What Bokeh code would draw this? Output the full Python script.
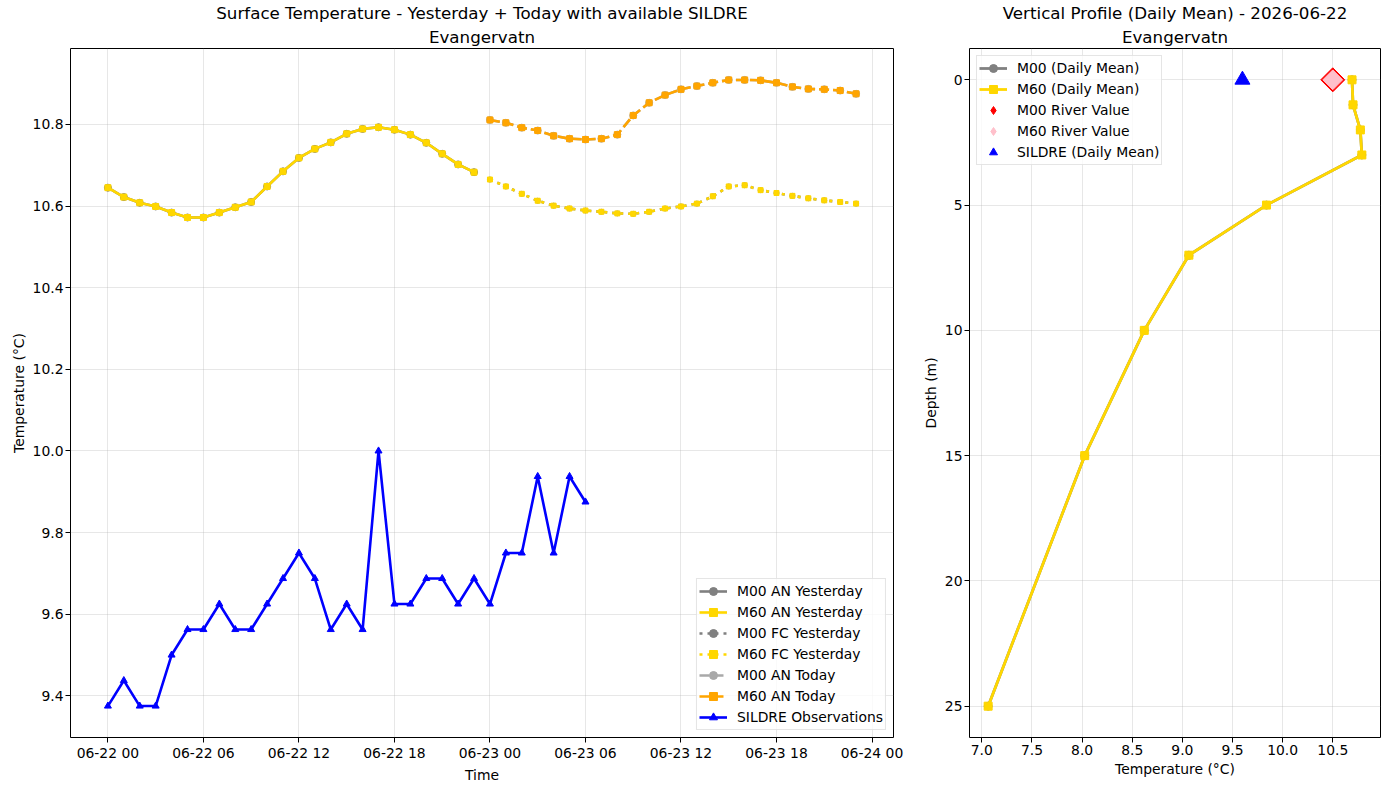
import pandas as pd
from bokeh.plotting import figure
from bokeh.models import (Range1d, FixedTicker, DatetimeTickFormatter, NumeralTickFormatter,
                          Legend, LegendItem, Title)
from bokeh.layouts import row
from bokeh.embed import file_html
from bokeh.resources import INLINE

FONT = "DejaVu Sans"

# ---------------- surface temperature series (hourly) ----------------
day0 = pd.Timestamp("2026-06-22 00:00")
hours_an_yest = list(range(0, 24))
hours_fc_yest = list(range(24, 48))
hours_an_today = list(range(24, 48))
hours_obs = list(range(0, 31))

m00_an_yest = [10.645, 10.622, 10.608, 10.599, 10.584, 10.572, 10.572, 10.584, 10.597, 10.610,
               10.648, 10.685, 10.718, 10.740, 10.756, 10.777, 10.789, 10.793, 10.787, 10.775,
               10.755, 10.728, 10.702, 10.683]
m60_an_yest = [10.645, 10.622, 10.608, 10.599, 10.584, 10.572, 10.572, 10.584, 10.597, 10.610,
               10.648, 10.685, 10.718, 10.740, 10.756, 10.777, 10.789, 10.793, 10.787, 10.775,
               10.755, 10.728, 10.702, 10.683]
m00_fc_yest = [10.665, 10.648, 10.630, 10.613, 10.601, 10.594, 10.589, 10.586, 10.582, 10.581,
               10.586, 10.594, 10.599, 10.606, 10.624, 10.648, 10.651, 10.639, 10.632, 10.625,
               10.619, 10.614, 10.610, 10.606]
m60_fc_yest = [10.665, 10.648, 10.630, 10.613, 10.601, 10.594, 10.589, 10.586, 10.582, 10.581,
               10.586, 10.594, 10.599, 10.606, 10.624, 10.648, 10.651, 10.639, 10.632, 10.625,
               10.619, 10.614, 10.610, 10.606]
m00_an_today = [10.811, 10.804, 10.792, 10.785, 10.772, 10.765, 10.763, 10.765, 10.775, 10.822,
                10.853, 10.872, 10.886, 10.894, 10.902, 10.909, 10.909, 10.908, 10.902, 10.892,
                10.887, 10.886, 10.883, 10.875]
m60_an_today = [10.811, 10.804, 10.792, 10.785, 10.772, 10.765, 10.763, 10.765, 10.775, 10.822,
                10.853, 10.872, 10.886, 10.894, 10.902, 10.909, 10.909, 10.908, 10.902, 10.892,
                10.887, 10.886, 10.883, 10.875]
sildre_obs = [9.375, 9.4375, 9.375, 9.375, 9.5, 9.5625, 9.5625, 9.625, 9.5625, 9.5625,
              9.625, 9.6875, 9.75, 9.6875, 9.5625, 9.625, 9.5625, 10.0, 9.625, 9.625,
              9.6875, 9.6875, 9.625, 9.6875, 9.625, 9.75, 9.75, 9.9375, 9.75, 9.9375, 9.875]

# ---------------- vertical profile (daily mean) ----------------
depths = [0, 1, 2, 3, 5, 7, 10, 15, 25]
m00_profile = [10.692, 10.702, 10.775, 10.790, 9.839, 9.065, 8.620, 8.026, 7.063]
m60_profile = [10.692, 10.702, 10.775, 10.790, 9.839, 9.065, 8.620, 8.026, 7.063]
m00_river = 10.5
m60_river = 10.5
sildre_daily_mean = sum(sildre_obs[:24]) / 24.0

time_ticks = [0, 6, 12, 18, 24, 30, 36, 42, 48]


def to_time(hours):
    return [day0 + pd.Timedelta(hours=h) for h in hours]


def to_ms(h):
    return (day0 + pd.Timedelta(hours=h)).timestamp() * 1000.0


def add_titles(p, main, sub):
    # the figure's own title is the outer (top) line; the location line sits below it
    p.title.text = main
    p.title.text_font = FONT
    p.title.text_font_size = "16.7px"
    p.title.text_font_style = "normal"
    p.title.align = "center"
    p.title.text_color = "black"
    p.title.standoff = 0
    inner = Title(text=sub, align="center", text_font=FONT, text_font_size="16.7px",
                  text_font_style="normal", text_color="black", standoff=4)
    p.add_layout(inner, "above")


def style_axes(p):
    p.outline_line_color = "black"
    p.outline_line_width = 1
    p.outline_line_alpha = 1
    for ax in (p.xaxis[0], p.yaxis[0]):
        ax.axis_line_color = None
        ax.major_tick_in = 0
        ax.major_tick_out = 5
        ax.minor_tick_line_color = None
        ax.major_label_text_font = FONT
        ax.major_label_text_font_size = "13.9px"
        ax.major_label_text_color = "black"
        ax.axis_label_text_font = FONT
        ax.axis_label_text_font_size = "13.9px"
        ax.axis_label_text_font_style = "normal"
        ax.axis_label_text_color = "black"
        ax.major_label_standoff = 2
        ax.axis_label_standoff = 3
    p.grid.grid_line_color = "#b0b0b0"
    p.grid.grid_line_alpha = 0.3
    p.grid.grid_line_width = 1


def style_legend(leg):
    leg.label_text_font = FONT
    leg.label_text_font_size = "13.9px"
    leg.label_text_color = "black"
    leg.border_line_color = "#cccccc"
    leg.border_line_width = 1
    leg.background_fill_alpha = 0.8
    leg.glyph_width = 28
    leg.glyph_height = 20
    leg.label_height = 20
    leg.spacing = 1
    leg.padding = 2
    leg.label_standoff = 10
    leg.margin = 7


def series(p, xs, ys, color, marker, dash, msize, label, lw=2.6):
    ln = p.line(xs, ys, line_color=color, line_width=lw, line_dash=dash)
    sc = p.scatter(xs, ys, marker=marker, size=msize, fill_color=color, line_color=color)
    return LegendItem(label=label, renderers=[ln, sc])


# ---------------- left panel: surface temperature ----------------
p1 = figure(width=918, height=790, x_axis_type="datetime",
            x_range=Range1d(day0 - pd.Timedelta(hours=2.35), day0 + pd.Timedelta(hours=49.35)),
            y_range=Range1d(9.298, 10.986),
            output_backend="svg", toolbar_location=None,
            min_border_left=70, min_border_right=25, min_border_top=4, min_border_bottom=53)
add_titles(p1, "Surface Temperature - Yesterday + Today with available SILDRE", "Evangervatn")
style_axes(p1)
p1.xaxis.axis_label = "Time"
p1.yaxis.axis_label = "Temperature (°C)"
p1.xaxis.ticker = FixedTicker(ticks=[to_ms(h) for h in time_ticks])
fmt = "%m-%d %H"
p1.xaxis.formatter = DatetimeTickFormatter(hours=fmt, hourmin=fmt, days=fmt, months=fmt,
                                           minutes=fmt, minsec=fmt, seconds=fmt)
p1.yaxis.ticker = FixedTicker(ticks=[9.4, 9.6, 9.8, 10.0, 10.2, 10.4, 10.6, 10.8])
p1.yaxis.formatter = NumeralTickFormatter(format="0.0")

items = [
    series(p1, to_time(hours_an_yest), m00_an_yest, "#808080", "circle", "solid", 7, "M00 AN Yesterday"),
    series(p1, to_time(hours_an_yest), m60_an_yest, "#FFD700", "square", "solid", 6, "M60 AN Yesterday"),
    series(p1, to_time(hours_fc_yest), m00_fc_yest, "#808080", "circle", "3 5", 5, "M00 FC Yesterday"),
    series(p1, to_time(hours_fc_yest), m60_fc_yest, "#FFD700", "square", "3 5", 5, "M60 FC Yesterday"),
    series(p1, to_time(hours_an_today), m00_an_today, "#A9A9A9", "circle", "10 4", 7, "M00 AN Today"),
    series(p1, to_time(hours_an_today), m60_an_today, "#FFA500", "square", "10 4", 6, "M60 AN Today"),
    series(p1, to_time(hours_obs), sildre_obs, "#0000FF", "triangle", "solid", 7, "SILDRE Observations"),
]

leg1 = Legend(items=items, location="bottom_right")
style_legend(leg1)
p1.add_layout(leg1, "center")

# ---------------- right panel: vertical profile ----------------
p2 = figure(width=471, height=790,
            x_range=Range1d(6.877, 10.976), y_range=Range1d(26.25, -1.25),
            output_backend="svg", toolbar_location=None,
            min_border_left=51, min_border_right=9, min_border_top=4, min_border_bottom=53)
add_titles(p2, "Vertical Profile (Daily Mean) - 2026-06-22", "Evangervatn")
style_axes(p2)
p2.xaxis.axis_label = "Temperature (°C)"
p2.yaxis.axis_label = "Depth (m)"
p2.xaxis.ticker = FixedTicker(ticks=[7.0, 7.5, 8.0, 8.5, 9.0, 9.5, 10.0, 10.5])
p2.xaxis.formatter = NumeralTickFormatter(format="0.0")
p2.yaxis.ticker = FixedTicker(ticks=[0, 5, 10, 15, 20, 25])

items2 = [
    series(p2, m00_profile, depths, "#808080", "circle", "solid", 8, "M00 (Daily Mean)", lw=2.8),
    series(p2, m60_profile, depths, "#FFD700", "square", "solid", 8, "M60 (Daily Mean)", lw=2.8),
]
# diamond swatches for the legend, hidden underneath the turned squares below
k_m00 = p2.scatter([m00_river], [0], marker="diamond", size=12,
                   fill_color="#FF0000", line_color="#FF0000")
k_m60 = p2.scatter([m60_river], [0], marker="diamond", size=12,
                   fill_color="#FFC0CB", line_color="#FFC0CB")
# river values drawn as diamonds (squares turned 45 degrees)
r_m00 = p2.scatter([m00_river], [0], marker="square", angle=0.7854, size=17,
                   fill_color="#FF0000", line_color="#FF0000")
r_m60 = p2.scatter([m60_river], [0], marker="square", angle=0.7854, size=14,
                   fill_color="#FFC0CB", line_color="#FFC0CB")
r_sil = p2.scatter([sildre_daily_mean], [0], marker="triangle", size=15,
                   fill_color="#0000FF", line_color="#0000FF")
items2.append(LegendItem(label="M00 River Value", renderers=[k_m00]))
items2.append(LegendItem(label="M60 River Value", renderers=[k_m60]))
items2.append(LegendItem(label="SILDRE (Daily Mean)", renderers=[r_sil]))

leg2 = Legend(items=items2, location="top_left")
style_legend(leg2)
p2.add_layout(leg2, "center")

layout = row(p1, p2)
open("out.html", "w").write(file_html(layout, INLINE))
